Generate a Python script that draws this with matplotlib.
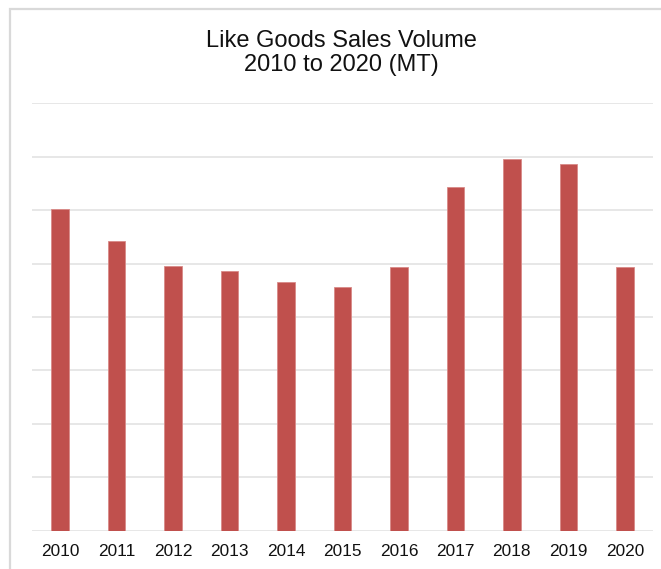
import matplotlib
matplotlib.use("Agg")
import matplotlib.pyplot as plt
from matplotlib.patches import Rectangle

# Sales volume per year (MT)
years = ["2010", "2011", "2012", "2013", "2014", "2015",
         "2016", "2017", "2018", "2019", "2020"]
volume = [301, 271, 248, 243, 233, 228, 247, 322, 348, 343, 247]

W, H = 661, 569
plt.rcParams["font.family"] = ["Liberation Sans", "DejaVu Sans"]

fig = plt.figure(figsize=(W / 100, H / 100), dpi=100)

# light grey frame around the chart area
fig.patches.append(Rectangle((10 / W, -0.1), 1.2, 1 - 9 / H + 0.1,
                             transform=fig.transFigure, fill=False,
                             edgecolor="#d9d9d9", linewidth=1.6))

ax = fig.add_axes([32 / W, 1 - 530.7 / H, (653 - 32) / W, (530.7 - 103.3) / H])
x = range(len(years))
ax.bar(x, volume, width=0.31, color="#c0504d", edgecolor="#d98a88",
       linewidth=0.6, zorder=3)

ax.set_xlim(-0.5, len(years) - 0.5)
ax.set_ylim(0, 400)
ax.set_yticks(range(0, 401, 50))
ax.yaxis.grid(True, color="#e3e3e3", linewidth=1.2, zorder=0)
ax.tick_params(axis="y", left=False, labelleft=False)
ax.tick_params(axis="x", length=0, pad=9.5, labelsize=12.4, colors="#111111")
ax.set_xticks(list(x))
ax.set_xticklabels(years)
for s in ax.spines.values():
    s.set_visible(False)

cx = 341 / W
fig.text(cx, 1 - 47.3 / H, "Like Goods Sales Volume", ha="center",
         va="baseline", fontsize=17, color="#111111")
fig.text(cx, 1 - 71.5 / H, "2010 to 2020 (MT)", ha="center",
         va="baseline", fontsize=17, color="#111111")

fig.savefig("out.png", dpi=100)
